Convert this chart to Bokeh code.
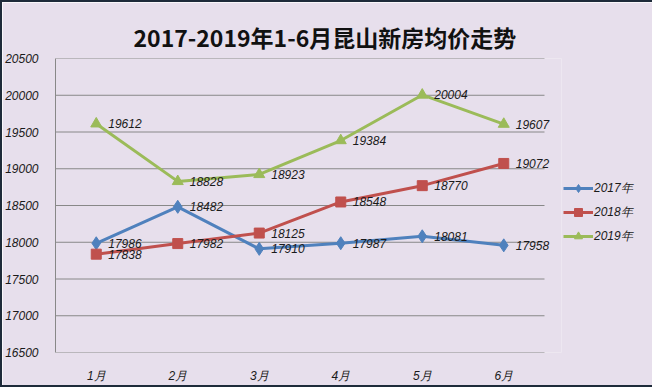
from bokeh.plotting import figure
from bokeh.models import (ColumnDataSource, Range1d, FixedTicker,
                          Label, Legend, LegendItem)
from bokeh.embed import file_html
from bokeh.resources import INLINE

months = ["1月", "2月", "3月", "4月", "5月", "6月"]
y2017 = [17986, 18482, 17910, 17987, 18081, 17958]
y2018 = [17838, 17982, 18125, 18548, 18770, 19072]
y2019 = [19612, 18828, 18923, 19384, 20004, 19607]
series_names = ["2017年", "2018年", "2019年"]
y_ticks = [16500, 17000, 17500, 18000, 18500, 19000, 19500, 20000, 20500]

BG = "#E7DFEC"
GRID = "#888888"
FONT = "Liberation Sans"

n = len(months)
xpos = [i + 0.5 for i in range(n)]          # category centres
UNIT = 81.5                                  # px per category
EXTRA = 17                                   # px room for right-hand labels

p = figure(x_range=Range1d(0, n + EXTRA / UNIT),
           y_range=Range1d(y_ticks[0], y_ticks[-1]),
           frame_width=int(n * UNIT + EXTRA), frame_height=294,
           min_border_left=43, min_border_right=83,
           min_border_top=56, min_border_bottom=24,
           output_backend="svg", toolbar_location=None,
           background_fill_color=BG, border_fill_color=BG)
p.styles = {"border": "2px solid #1E2B3A"}
p.outline_line_color = None

p.title.text = "2017-2019年1-6月昆山新房均价走势"
p.title.text_font = "Noto Sans CJK SC"
p.title.text_font_size = "23px"
p.title.text_font_style = "bold"
p.title.text_color = "#111111"
p.title.align = "left"
p.title.offset = 78

# horizontal grid lines (and bottom axis line) spanning only the categories
p.xgrid.grid_line_color = None
p.ygrid.grid_line_color = None
p.segment(x0=[0] * len(y_ticks), x1=[n] * len(y_ticks), y0=y_ticks, y1=y_ticks,
          line_color=GRID, line_width=1)

p.yaxis.ticker = FixedTicker(ticks=y_ticks)
p.xaxis.ticker = FixedTicker(ticks=xpos)
p.xaxis.major_label_overrides = {x: m for x, m in zip(xpos, months)}
p.xaxis.axis_line_color = None
p.yaxis.axis_line_color = GRID

for ax in (p.xaxis[0], p.yaxis[0]):
    ax.major_tick_line_color = None
    ax.minor_tick_line_color = None
    ax.major_label_text_font = FONT
    ax.major_label_text_font_size = "12px"
    ax.major_label_text_font_style = "italic"
    ax.major_label_text_color = "#1A1A1A"
p.yaxis.major_label_standoff = 11
p.xaxis.major_label_standoff = 10

colors = ["#4F81BD", "#C0504D", "#9BBB59"]
data = [y2017, y2018, y2019]
items = []
for name, ys, c, mk in zip(series_names, data, colors, ["diamond", "square", "triangle"]):
    src = ColumnDataSource(dict(x=xpos, y=ys))
    ln = p.line("x", "y", source=src, line_color=c, line_width=3)
    size = {"diamond": 13, "square": 10, "triangle": 11}[mk]
    sc = p.scatter("x", "y", source=src, marker=mk, size=size,
                   fill_color=c, line_color=c)
    items.append(LegendItem(label=name, renderers=[ln, sc]))
    for x, v in zip(xpos, ys):
        p.add_layout(Label(x=x, y=v, text=str(v), x_offset=12,
                           text_baseline="middle", text_align="left",
                           text_font=FONT, text_font_size="12px",
                           text_font_style="italic", text_color="#1A1A1A"))

legend = Legend(items=items, location=(2, 106), padding=0, margin=0,
                spacing=4, glyph_width=30, glyph_height=20, label_standoff=1,
                border_line_color=None, background_fill_alpha=0,
                label_text_font=FONT, label_text_font_size="12px",
                label_text_font_style="italic", label_text_color="#1A1A1A")
p.add_layout(legend, "right")

open("out.html", "w").write(file_html(p, INLINE))
